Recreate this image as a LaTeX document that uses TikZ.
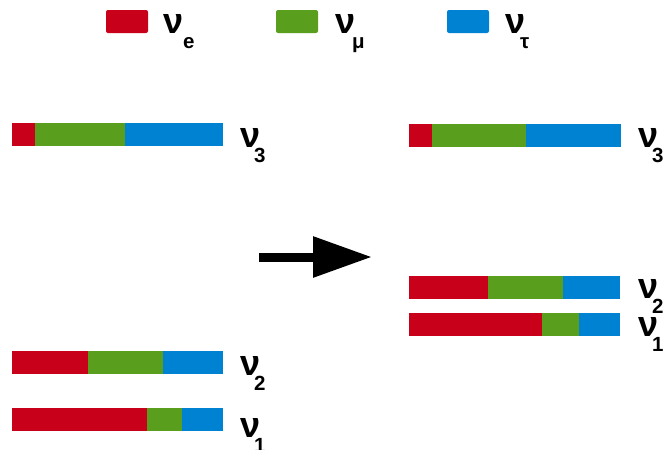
\documentclass[tikz,border=0pt]{standalone}
\usepackage{fontspec}
\setmainfont{Liberation Sans}
\usetikzlibrary{arrows.meta}

\definecolor{nue}{HTML}{C8001A}
\definecolor{numu}{HTML}{5A9E1E}
\definecolor{nutau}{HTML}{0082D2}

% nu with a lowered index
\newcommand\nulab[2][-4pt]{ν\kern#1\raisebox{-15pt}{\fontsize{20.5}{20.5}\selectfont #2}}

\begin{document}
\begin{tikzpicture}[
    x=1pt, y=-1pt,
    seg/.style={inner sep=0pt, outer sep=0pt, minimum height=23pt, draw=none},
    key/.style={inner sep=0pt, outer sep=0pt, minimum width=42pt, minimum height=23pt, rounded corners=2pt, anchor=north west},
    lab/.style={inner sep=0pt, anchor=base west, font=\fontsize{36}{36}\selectfont\bfseries},
    mix/.style={line width=9pt, -{Triangle[length=59pt,width=39pt]}}
]
\useasboundingbox (0,0) rectangle (667,450);

% legend
\node[key, fill=nue]   (key-e)   at (106,10) {};
\node[key, fill=numu]  (key-mu)  at (276,10) {};
\node[key, fill=nutau] (key-tau) at (447,10) {};
\node[lab] (lab-e)   at (163,33) {\nulab[0pt]{e}};
\node[lab] (lab-mu)  at (335,33) {\nulab[-3pt]{μ}};
\node[lab] (lab-tau) at (505,33) {\nulab[-5pt]{τ}};

% mass states: flavour fractions before and after
\foreach \name/\x/\y/\a/\b/\c in {L3/12/123/23/90/98, L2/12/351/76/75/60, L1/12/408/135/35/41,
                                 R3/409/124/23/94/95, R2/409/276/79/75/57, R1/409/313/133/37/41} {
    \node[seg, fill=nue, minimum width=\a pt, anchor=north west] (\name-e) at (\x,\y) {};
    \node[seg, fill=numu, minimum width=\b pt, anchor=west] (\name-mu) at (\name-e.east) {};
    \node[seg, fill=nutau, minimum width=\c pt, anchor=west] (\name-tau) at (\name-mu.east) {};
}

\foreach \name/\x/\y/\i in {L3/240/147/3, L2/240/375/2, L1/240/437/1,
                            R3/638/147/3, R2/638/298/2, R1/638/336/1} {
    \node[lab] (lab-\name) at (\x,\y) {\nulab[-6pt]{\i}};
}

% arrow
\coordinate (from) at (259,257);
\coordinate (to) at (372,257);
\draw[mix] (from) -- (to);
\end{tikzpicture}
\end{document}
